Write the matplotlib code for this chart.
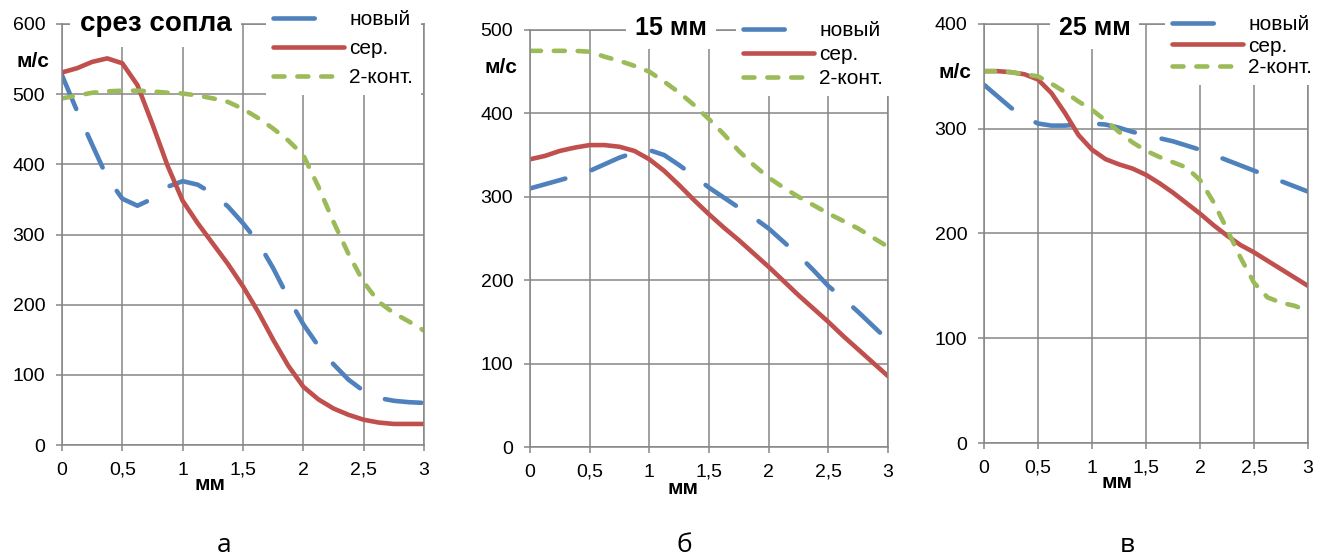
import matplotlib

matplotlib.use("Agg")
import matplotlib.pyplot as plt
from matplotlib.lines import Line2D

plt.rcParams["font.family"] = ["Liberation Sans", "DejaVu Sans"]

# distance from the nozzle axis, mm
x_mm = [0, 0.125, 0.25, 0.375, 0.5, 0.625, 0.75, 0.875, 1.0, 1.125, 1.25, 1.375, 1.5,
        1.625, 1.75, 1.875, 2.0, 2.125, 2.25, 2.375, 2.5, 2.625, 2.75, 2.875, 3.0]
x_ticks = [0, 0.5, 1, 1.5, 2, 2.5, 3]
x_tick_labels = ["0", "0,5", "1", "1,5", "2", "2,5", "3"]

# (а) nozzle exit
a_new = [527, 476, 428, 381, 351, 341, 351, 368, 376, 371, 358, 340, 316,
         289, 252, 210, 172, 141, 115, 93, 77, 67, 63, 61, 60]
a_ser = [531, 537, 546, 551, 544, 513, 457, 398, 348, 316, 287, 258, 226,
         190, 150, 113, 83, 65, 52, 43, 36, 32, 30, 30, 30]
a_2k = [494, 498, 502, 504, 505, 505, 504, 502, 501, 498, 494, 489, 479,
        466, 451, 434, 413, 368, 318, 272, 232, 204, 188, 176, 163]

# (б) 15 mm
b_new = [310, 315, 320, 325, 331, 339, 347, 353, 356, 350, 338, 325, 311,
         299, 287, 275, 262, 246, 230, 212, 193, 178, 162, 145, 128]
b_ser = [345, 349, 355, 359, 362, 362, 360, 355, 345, 331, 314, 296, 279,
         263, 248, 232, 216, 199, 182, 166, 150, 133, 117, 101, 85]
b_2k = [475, 475, 475, 475, 474, 468, 463, 457, 450, 438, 425, 410, 393,
        375, 355, 338, 323, 311, 300, 290, 280, 271, 262, 251, 240]

# (в) 25 mm
c_new = [342, 331, 320, 311, 305, 303, 303, 304, 305, 304, 301, 297, 294,
         291, 288, 284, 280, 275, 270, 265, 260, 255, 250, 245, 240]
c_ser = [355, 355, 354, 352, 347, 334, 315, 294, 280, 271, 266, 262, 256,
         248, 239, 229, 219, 208, 198, 189, 182, 174, 166, 158, 150]
c_2k = [355, 355, 354, 352, 350, 343, 335, 326, 318, 308, 297, 287, 279,
        273, 268, 263, 251, 230, 204, 177, 153, 139, 134, 131, 126]

series_names = ["новый", "сер.", "2-конт."]

BLUE = "#4F81BD"
RED = "#C0504D"
GREEN = "#9BBB59"
GRID = "#868686"
LW = 3.3

W, H = 1330, 555
fig = plt.figure(figsize=(W / 100, H / 100), dpi=100, facecolor="white")


def px_box(left, right, top, bottom):
    return [left / W, 1 - bottom / H, (right - left) / W, (bottom - top) / H]


def draw_panel(box, new, ser, kont, ymax, title, title_xy, title_size,
               ylab_xy, xlab_xy, leg_xy, leg_spacing, letter, letter_x):
    ax = fig.add_axes(box)
    ax.set_axisbelow(True)
    ax.plot(x_mm, new, color=BLUE, lw=LW, dashes=(8, 6), dash_capstyle="round")
    ax.plot(x_mm, ser, color=RED, lw=LW, solid_capstyle="round", solid_joinstyle="round")
    ax.plot(x_mm, kont, color=GREEN, lw=LW, dashes=(2.4, 2.8), dash_capstyle="round")

    ax.set_xlim(0, 3)
    ax.set_ylim(0, ymax)
    ax.set_xticks(x_ticks)
    ax.set_xticklabels(x_tick_labels)
    ax.set_yticks(range(0, ymax + 1, 100))
    ax.grid(True, color=GRID, lw=1.1)
    for sp in ax.spines.values():
        sp.set_color(GRID)
        sp.set_linewidth(1.1)
    ax.tick_params(colors=GRID, labelcolor="black", labelsize=14, length=4, width=1.1, pad=8)

    # panel title on a white patch over the top gridline
    ax.text(title_xy[0], title_xy[1], title, transform=ax.transAxes, ha="center",
            va="baseline", fontsize=title_size, fontweight="bold", zorder=4,
            bbox=dict(boxstyle="square,pad=0.35", fc="white", ec="none"))
    ax.text(ylab_xy[0], ylab_xy[1], "м/с", transform=ax.transAxes, ha="center",
            va="center", fontsize=15, fontweight="bold")
    ax.text(xlab_xy[0], xlab_xy[1], "мм", transform=ax.transAxes, ha="center",
            va="center", fontsize=15, fontweight="bold")

    handles = [
        Line2D([], [], color=BLUE, lw=LW, dashes=(9, 4, 0, 4), dash_capstyle="round"),
        Line2D([], [], color=RED, lw=LW, solid_capstyle="round"),
        Line2D([], [], color=GREEN, lw=LW, dashes=(2.4, 2.8), dash_capstyle="round"),
    ]
    leg = ax.legend(handles, series_names, loc="upper left",
                    bbox_to_anchor=(leg_xy[0] / W, 1 - leg_xy[1] / H),
                    bbox_transform=fig.transFigure, borderaxespad=0, borderpad=0.35,
                    fontsize=15, handlelength=3.4, handletextpad=0.25,
                    labelspacing=leg_spacing, frameon=True, fancybox=False,
                    facecolor="white", edgecolor="none", framealpha=1)
    leg.set_zorder(5)

    fig.text(letter_x / W, 1 - 545 / H, letter, ha="center", va="center",
             fontsize=19, family=["Open Sans", "DejaVu Sans"])
    return ax


draw_panel(px_box(62, 424, 24, 445), a_new, a_ser, a_2k, 600,
           "срез сопла", (0.258, 0.983), 20, (-0.08, 0.91), (0.41, -0.095),
           (266, 3), 0.48, "а", 224)
draw_panel(px_box(530, 888, 30, 447), b_new, b_ser, b_2k, 500,
           "15 мм", (0.394, 0.988), 18, (-0.081, 0.909), (0.427, -0.099),
           (736, 14), 0.24, "б", 684)
draw_panel(px_box(984, 1308, 24, 443), c_new, c_ser, c_2k, 400,
           "25 мм", (0.342, 0.974), 18, (-0.09, 0.885), (0.41, -0.095),
           (1165, 8), 0.12, "в", 1127)

fig.savefig("out.png", dpi=100, facecolor="white")
